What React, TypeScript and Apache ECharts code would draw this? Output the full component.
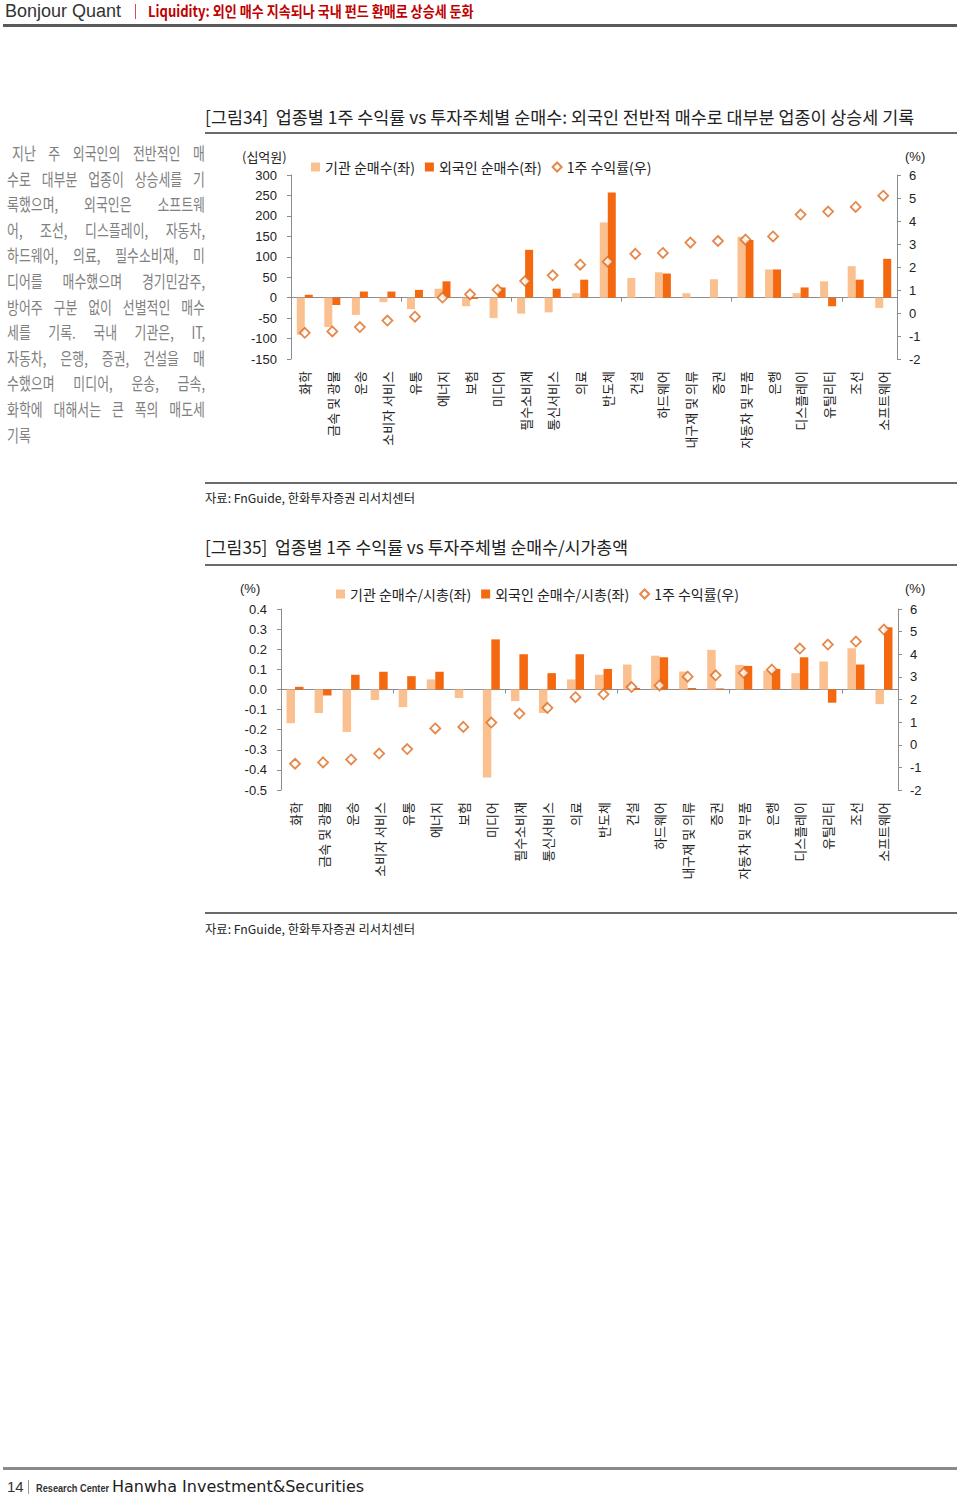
import React, { useEffect, useRef } from "react";
import * as echarts from "echarts";

const categories = [
  "화학", "금속 및 광물", "운송", "소비자 서비스", "유통", "에너지", "보험", "미디어",
  "필수소비재", "통신서비스", "의료", "반도체", "건설", "하드웨어", "내구재 및 의류", "증권",
  "자동차 및 부품", "은행", "디스플레이", "유틸리티", "조선", "소프트웨어",
];

// 그림34: 순매수 (십억원), 1주 수익률 (%)
const instNetBuy = [-91, -72, -42, -11, -28, 22, -21, -50, -39, -36, 11, 184, 48, 62, 11, 45, 149, 69, 11, 40, 77, -25];
const foreignNetBuy = [7, -18, 15, 15, 19, 40, -3, 25, 117, 22, 44, 257, 0, 59, 0, 0, 141, 69, 25, -21, 44, 95];
const weeklyReturn1 = [-0.86, -0.8, -0.61, -0.33, -0.16, 0.67, 0.81, 1.01, 1.39, 1.64, 2.1, 2.23, 2.57, 2.61, 3.06, 3.13, 3.19, 3.33, 4.28, 4.41, 4.61, 5.1];

// 그림35: 순매수/시가총액 (%), 1주 수익률 (%)
const instNetBuyMcap = [-0.168, -0.117, -0.211, -0.053, -0.088, 0.05, -0.043, -0.438, -0.058, -0.117, 0.05, 0.073, 0.124, 0.168, 0.089, 0.197, 0.122, 0.094, 0.081, 0.139, 0.205, -0.073];
const foreignNetBuyMcap = [0.013, -0.03, 0.073, 0.088, 0.066, 0.088, 0, 0.249, 0.175, 0.081, 0.175, 0.102, 0.007, 0.16, 0.007, 0.005, 0.117, 0.102, 0.16, -0.066, 0.124, 0.309];
const weeklyReturn2 = [-0.84, -0.78, -0.65, -0.39, -0.19, 0.72, 0.79, 0.98, 1.38, 1.63, 2.1, 2.23, 2.55, 2.62, 3.01, 3.07, 3.18, 3.32, 4.25, 4.43, 4.56, 5.09];

const paragraphLines = [
  "지난 주 외국인의 전반적인 매",
  "수로 대부분 업종이 상승세를 기",
  "록했으며, 외국인은 소프트웨",
  "어, 조선, 디스플레이, 자동차,",
  "하드웨어, 의료, 필수소비재, 미",
  "디어를 매수했으며 경기민감주,",
  "방어주 구분 없이 선별적인 매수",
  "세를 기록. 국내 기관은, IT,",
  "자동차, 은행, 증권, 건설을 매",
  "수했으며 미디어, 운송, 금속,",
  "화학에 대해서는 큰 폭의 매도세",
  "기록",
];

const LIGHT = "#FAC08F";
const DARK = "#F4680F";
const DIAMOND = "#DE6A1E";
const AXIS = "#8C8C8C";
const FONT = "'Liberation Sans', Arial, 'Noto Sans CJK KR', sans-serif";
const KFONT = "'Noto Sans CJK KR', 'Liberation Sans', sans-serif";

function xAxes(gridIndex: number) {
  return [
    {
      type: "category",
      gridIndex,
      data: categories,
      axisLine: { onZero: true, lineStyle: { color: AXIS, width: 1 } },
      axisTick: { show: true, length: 4, lineStyle: { color: AXIS } },
      axisLabel: { show: false },
      splitLine: { show: false },
    },
    {
      type: "category",
      gridIndex,
      data: categories,
      position: "bottom",
      axisLine: { show: false, onZero: false },
      axisTick: { show: false },
      axisLabel: { rotate: 90, margin: 12, fontSize: 13, color: "#222", interval: 0, fontFamily: KFONT },
      splitLine: { show: false },
    },
  ];
}

function yAxis(gridIndex: number, position: string, min: number, max: number, interval: number, fmt?: (v: number) => string) {
  return {
    type: "value",
    gridIndex,
    position,
    min,
    max,
    interval,
    axisLine: { show: true, lineStyle: { color: AXIS } },
    axisTick: { show: true, length: 4, lineStyle: { color: AXIS } },
    splitLine: { show: false },
    axisLabel: {
      fontSize: 13,
      color: "#222",
      margin: position === "left" ? 14 : 12,
      formatter: fmt,
    },
  };
}

function buildOption() {
  const pct1 = (v: number) => (Math.abs(v) < 1e-9 ? "0.0" : v.toFixed(1));
  const legendCommon = {
    itemWidth: 9,
    itemHeight: 9,
    itemGap: 10,
    textStyle: { fontSize: 14, color: "#222", fontFamily: KFONT },
  };
  return {
    animation: false,
    textStyle: { fontFamily: FONT },
    grid: [
      { left: 291, top: 175, width: 606, height: 184, containLabel: false },
      { left: 281, top: 609, width: 617, height: 181, containLabel: false },
    ],
    xAxis: [...xAxes(0), ...xAxes(1)],
    yAxis: [
      yAxis(0, "left", -150, 300, 50),
      yAxis(0, "right", -2, 6, 1),
      yAxis(1, "left", -0.5, 0.4, 0.1, pct1),
      yAxis(1, "right", -2, 6, 1),
    ],
    legend: [
      {
        ...legendCommon,
        left: 306,
        top: 155,
        data: [
          { name: "기관 순매수(좌)", icon: "rect" },
          { name: "외국인 순매수(좌)", icon: "rect" },
          { name: "1주 수익률(우)", icon: "diamond" },
        ],
      },
      {
        ...legendCommon,
        left: 331,
        top: 582,
        data: [
          { name: "기관 순매수/시총(좌)", icon: "rect" },
          { name: "외국인 순매수/시총(좌)", icon: "rect" },
          { name: "1주 수익률(우)", icon: "diamond" },
        ],
      },
    ],
    graphic: [
      { type: "text", left: 242, top: 150, style: { text: "(십억원)", fontSize: 13, fill: "#222", fontFamily: KFONT } },
      { type: "text", left: 905, top: 150, style: { text: "(%)", fontSize: 13, fill: "#222", fontFamily: FONT } },
      { type: "text", left: 240, top: 582, style: { text: "(%)", fontSize: 13, fill: "#222", fontFamily: FONT } },
      { type: "text", left: 905, top: 582, style: { text: "(%)", fontSize: 13, fill: "#222", fontFamily: FONT } },
    ],
    series: [
      {
        name: "기관 순매수(좌)", type: "bar", xAxisIndex: 0, yAxisIndex: 0, data: instNetBuy,
        barWidth: 8, barGap: "0%", itemStyle: { color: LIGHT },
      },
      {
        name: "외국인 순매수(좌)", type: "bar", xAxisIndex: 0, yAxisIndex: 0, data: foreignNetBuy,
        barWidth: 8, barGap: "0%", itemStyle: { color: DARK },
      },
      {
        name: "1주 수익률(우)", type: "scatter", xAxisIndex: 0, yAxisIndex: 1, data: weeklyReturn1,
        symbol: "diamond", symbolSize: 10, z: 5,
        itemStyle: { color: "#fff", borderColor: DIAMOND, borderWidth: 1.8 },
      },
      {
        name: "기관 순매수/시총(좌)", type: "bar", xAxisIndex: 2, yAxisIndex: 2, data: instNetBuyMcap,
        barWidth: 8.5, barGap: "0%", itemStyle: { color: LIGHT },
      },
      {
        name: "외국인 순매수/시총(좌)", type: "bar", xAxisIndex: 2, yAxisIndex: 2, data: foreignNetBuyMcap,
        barWidth: 8.5, barGap: "0%", itemStyle: { color: DARK },
      },
      {
        name: "1주 수익률(우)", type: "scatter", xAxisIndex: 2, yAxisIndex: 3, data: weeklyReturn2,
        symbol: "diamond", symbolSize: 10, z: 5,
        itemStyle: { color: "#fff", borderColor: DIAMOND, borderWidth: 1.8 },
      },
    ],
  };
}

const abs = (s: React.CSSProperties): React.CSSProperties => ({ position: "absolute", ...s });

function Scaled({ scale, children, style }: { scale: number; children: React.ReactNode; style?: React.CSSProperties }) {
  return (
    <span style={{ display: "inline-block", whiteSpace: "nowrap", transform: `scaleX(${scale})`, transformOrigin: "left center", ...style }}>
      {children}
    </span>
  );
}

export default function App() {
  const ref = useRef<HTMLDivElement>(null);
  useEffect(() => {
    if (!ref.current) return;
    const chart = echarts.init(ref.current, undefined, { renderer: "svg" });
    chart.setOption(buildOption() as any);
    return () => chart.dispose();
  }, []);

  const lineH = 25.6;
  return (
    <div style={abs({ left: 0, top: 0, width: 960, height: 1497, background: "#fff", overflow: "hidden", fontFamily: KFONT })}>
      <div ref={ref} style={abs({ left: 0, top: 0, width: 960, height: 1000 })} />

      {/* header */}
      <div style={abs({ left: 5, top: 0, fontSize: 18, lineHeight: "22px", color: "#333", fontFamily: FONT })}>Bonjour Quant</div>
      <div style={abs({ left: 135, top: 4, width: 1, height: 15, background: "#D0504F" })} />
      <div style={abs({ left: 148, top: 0, fontSize: 15, lineHeight: "22px", color: "#C00000", fontWeight: 700 })}>
        <Scaled scale={0.87}>Liquidity: 외인 매수 지속되나 국내 펀드 환매로 상승세 둔화</Scaled>
      </div>
      <div style={abs({ left: 3, top: 24, width: 954, height: 3, background: "#5A5A5A" })} />

      {/* left paragraph */}
      {paragraphLines.map((t, i) => {
        const last = i === paragraphLines.length - 1;
        const left = i === 0 ? 12 : 7;
        const visW = 205 - left;
        const sc = 0.76;
        return (
          <div
            key={i}
            style={abs({
              left,
              top: 140 + i * lineH,
              width: visW / sc,
              height: lineH,
              lineHeight: `${lineH}px`,
              fontSize: 17,
              color: "#808080",
              textAlign: "justify",
              textAlignLast: last ? "left" : "justify",
              transform: `scaleX(${sc})`,
              transformOrigin: "left top",
            })}
          >
            {t}
          </div>
        );
      })}

      {/* figure 34 */}
      <div style={abs({ left: 205, top: 106, fontSize: 17.4, lineHeight: "22px", color: "#222", whiteSpace: "nowrap" })}>
        [그림34]&nbsp; 업종별 1주 수익률 vs 투자주체별 순매수: 외국인 전반적 매수로 대부분 업종이 상승세 기록
      </div>
      <div style={abs({ left: 205, top: 132, width: 752, height: 2, background: "#6A6A6A" })} />
      <div style={abs({ left: 205, top: 482, width: 752, height: 2, background: "#6A6A6A" })} />
      <div style={abs({ left: 205, top: 489, fontSize: 12.3, lineHeight: "18px", color: "#222", whiteSpace: "nowrap" })}>
        자료: FnGuide, 한화투자증권 리서치센터
      </div>

      {/* figure 35 */}
      <div style={abs({ left: 205, top: 536, fontSize: 17.2, lineHeight: "22px", color: "#222", whiteSpace: "nowrap" })}>
        [그림35]&nbsp; 업종별 1주 수익률 vs 투자주체별 순매수/시가총액
      </div>
      <div style={abs({ left: 205, top: 564, width: 752, height: 2, background: "#6A6A6A" })} />
      <div style={abs({ left: 205, top: 912, width: 752, height: 2, background: "#6A6A6A" })} />
      <div style={abs({ left: 205, top: 920, fontSize: 12.3, lineHeight: "18px", color: "#222", whiteSpace: "nowrap" })}>
        자료: FnGuide, 한화투자증권 리서치센터
      </div>

      {/* footer */}
      <div style={abs({ left: 3, top: 1467, width: 954, height: 3, background: "#8A8A8A" })} />
      <div style={abs({ left: 7, top: 1477, fontSize: 15, lineHeight: "20px", color: "#333", fontFamily: FONT })}>14</div>
      <div style={abs({ left: 28, top: 1480, width: 1, height: 14, background: "#999" })} />
      <div style={abs({ left: 36, top: 1478, fontSize: 11.5, lineHeight: "20px", color: "#333", fontWeight: 700, fontFamily: FONT })}>
        <Scaled scale={0.8}>Research Center</Scaled>
      </div>
      <div style={abs({ left: 112, top: 1477, fontSize: 16, lineHeight: "20px", color: "#222", fontFamily: "'DejaVu Sans', sans-serif" })}>
        Hanwha Investment&amp;Securities
      </div>
    </div>
  );
}
